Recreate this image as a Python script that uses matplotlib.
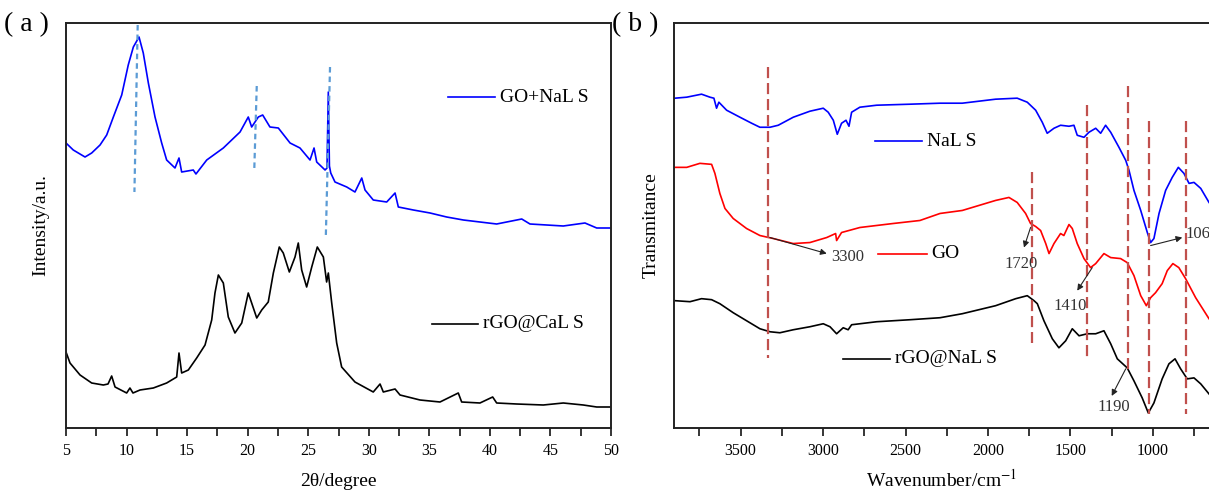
import matplotlib
matplotlib.use("Agg")
import matplotlib.pyplot as plt
from matplotlib.ticker import MultipleLocator

plt.rcParams['font.family'] = ['Liberation Serif', 'DejaVu Serif', 'Noto Sans CJK SC']
plt.rcParams['mathtext.fontset'] = 'stix'

# ---- (a) XRD ----
two_theta_go = [5.00, 5.60, 6.57, 7.12, 7.81, 8.36, 8.91, 9.60, 10.14, 10.56, 11.03, 11.38,
                11.80, 12.35, 12.90, 13.31, 14.00, 14.33, 14.55, 15.51, 15.73, 16.62, 17.99,
                19.37, 20.05, 20.33, 20.88, 21.24, 21.84, 22.53, 23.50, 24.32, 25.15, 25.48,
                25.70, 26.39, 26.55, 26.66, 26.75, 26.86, 27.21, 28.18, 28.86, 29.42, 29.69,
                30.37, 31.48, 32.17, 32.44, 33.68, 35.06, 36.43, 37.81, 39.18, 40.56, 42.63,
                43.31, 44.69, 46.06, 47.85, 48.82, 49.92]
int_go = [285, 278, 271, 275, 283, 293, 311, 333, 363, 381, 391, 375,
          345, 311, 285, 268, 260, 270, 256, 258, 254, 268, 280,
          296, 311, 301, 311, 313, 301, 300, 285, 280, 268, 280,
          266, 258, 260, 336, 262, 255, 246, 241, 236, 250, 238,
          228, 226, 235, 221, 218, 215, 211, 208, 206, 204, 209,
          204, 203, 202, 205, 200, 200]

two_theta_rgo = [5.00, 5.33, 6.16, 7.12, 8.08, 8.47, 8.77, 9.05, 10.01, 10.28, 10.53, 11.11,
                 12.21, 13.31, 14.14, 14.33, 14.55, 15.10, 15.79, 16.48, 17.03, 17.30, 17.58,
                 17.99, 18.40, 18.95, 19.51, 20.05, 20.33, 20.75, 21.16, 21.70, 22.12, 22.61,
                 22.94, 23.44, 23.91, 24.18, 24.46, 24.87, 25.29, 25.75, 26.25, 26.52, 26.66,
                 26.94, 27.35, 27.76, 28.86, 30.37, 30.93, 31.20, 32.17, 32.58, 34.23, 35.88,
                 37.39, 37.67, 39.18, 40.23, 40.56, 42.21, 44.41, 46.06, 47.71, 48.82, 49.92]
int_rgo = [76, 65, 53, 45, 43, 44, 52, 41, 35, 40, 35, 38,
           40, 45, 51, 75, 55, 58, 70, 83, 108, 135, 153,
           145, 111, 95, 105, 135, 125, 110, 118, 126, 155, 181,
           175, 156, 171, 185, 158, 141, 161, 181, 171, 146, 155,
           125, 85, 61, 46, 36, 44, 36, 39, 33, 28, 26,
           35, 26, 25, 31, 25, 24, 23, 25, 23, 21, 21]

# guide lines: (x top, x bottom, y top, y bottom)
xrd_guides = [(10.92, 10.65, 403, 236), (20.75, 20.55, 342, 260), (26.80, 26.45, 361, 190)]

# ---- (b) FTIR ----
wn_nals = [3898, 3827, 3737, 3686, 3662, 3646, 3632, 3585, 3504, 3433, 3383, 3322, 3272,
           3181, 3080, 2999, 2969, 2938, 2914, 2888, 2861, 2843, 2827, 2777, 2675, 2473,
           2291, 2156, 1954, 1823, 1762, 1711, 1671, 1641, 1600, 1560, 1509, 1479, 1459,
           1418, 1388, 1347, 1317, 1287, 1256, 1206, 1165, 1145, 1115, 1074, 1034, 1014,
           994, 963, 923, 883, 846, 812, 781, 751, 710, 660]
t_nals = [329, 330, 333, 330, 329, 319, 325, 317, 310, 304, 300, 300, 302,
          310, 316, 319, 315, 307, 293, 304, 307, 301, 315, 320, 322, 323,
          324, 324, 328, 329, 325, 317, 305, 294, 299, 302, 301, 302, 292,
          290, 295, 299, 294, 302, 295, 280, 267, 257, 237, 217, 195, 185,
          189, 214, 237, 250, 260, 254, 244, 245, 239, 225]

wn_go = [3898, 3827, 3747, 3676, 3656, 3626, 3595, 3545, 3464, 3383, 3302, 3181, 3080,
         2978, 2924, 2918, 2888, 2777, 2575, 2413, 2291, 2156, 1954, 1873, 1823, 1772,
         1742, 1711, 1681, 1650, 1630, 1600, 1560, 1540, 1509, 1489, 1459, 1418, 1378,
         1347, 1297, 1256, 1196, 1156, 1115, 1074, 1040, 1014, 984, 944, 913, 879, 843,
         802, 741, 660]
t_go = [260, 260, 264, 263, 254, 234, 219, 209, 199, 192, 189, 184, 185,
        190, 194, 187, 195, 200, 204, 207, 214, 217, 227, 230, 225, 214,
        204, 201, 197, 184, 174, 184, 194, 192, 203, 199, 184, 169, 160,
        164, 174, 170, 169, 165, 152, 132, 122, 130, 135, 144, 157, 164, 160,
        149, 130, 109]

wn_rgo = [3898, 3807, 3737, 3676, 3626, 3545, 3464, 3383, 3322, 3262, 3181, 3080, 2999,
          2958, 2918, 2878, 2848, 2827, 2675, 2473, 2291, 2156, 1954, 1832, 1762, 1721,
          1701, 1661, 1610, 1570, 1529, 1489, 1448, 1398, 1347, 1297, 1256, 1216, 1156,
          1115, 1065, 1028, 994, 944, 903, 866, 832, 792, 751, 710, 660]
t_rgo = [127, 126, 129, 128, 124, 115, 107, 99, 96, 95, 98, 101, 104,
         101, 94, 100, 98, 103, 106, 108, 110, 114, 122, 129, 132, 127,
         124, 107, 89, 80, 87, 99, 92, 94, 94, 97, 84, 69, 60,
         47, 30, 15, 25, 49, 64, 69, 59, 49, 50, 44, 34]

# guide lines: (wavenumber, y top, y bottom)
ftir_guides = [(3336, 360, 70), (1732, 255, 85), (1398, 322, 69), (1150, 341, 57),
               (1024, 306, 14), (801, 306, 14)]
# peak labels: (text, curve point, arrow head, text position, ha)
ftir_marks = [("3300", (3322, 190), (2978, 174), (2948, 171), 'left'),
              ("1720", (1742, 200), (1782, 180), (1802, 164), 'center'),
              ("1410", (1368, 160), (1459, 137), (1499, 122), 'center'),
              ("1190", (1165, 59), (1250, 32), (1240, 21), 'center'),
              ("1060", (1014, 182), (822, 190), (802, 194), 'left')]

W, H = 1209, 492
fig = plt.figure(figsize=(W / 100, H / 100), dpi=100)

def box(l, r, t=23, b=428):
    return [l / W, 1 - b / H, (r - l) / W, (b - t) / H]

def style(ax):
    for s in ax.spines.values():
        s.set_linewidth(1.4)
        s.set_color('#222222')
    ax.tick_params(axis='x', which='both', direction='out', length=6, width=1.1,
                   labelsize=11.5, pad=5)
    ax.tick_params(axis='y', which='both', left=False, labelleft=False)

ax1 = fig.add_axes(box(66, 611))
style(ax1)
ax1.plot(two_theta_go, int_go, color='#0000ff', lw=1.2)
ax1.plot(two_theta_rgo, int_rgo, color='black', lw=1.2)
for xt, xb, yt, yb in xrd_guides:
    ax1.plot([xt, xb], [yt, yb], color='#5b9bd5', lw=1.6, dashes=(2.5, 1.8))
ax1.plot([36.54, 40.42], [331, 331], color='#0000ff', lw=1.2)
ax1.text(40.8, 331, "GO+NaL\u2009S", fontsize=14, va='center')
ax1.plot([35.22, 39.02], [104, 104], color='black', lw=1.2)
ax1.text(39.4, 104, "rGO@CaL\u2009S", fontsize=14, va='center')
ax1.set_xlim(5, 50)
ax1.set_ylim(0, 405)
ax1.xaxis.set_major_locator(MultipleLocator(5))
ax1.xaxis.set_minor_locator(MultipleLocator(2.5))
ax1.set_xlabel("2θ/degree", fontsize=14, labelpad=10)
ax1.set_ylabel("Intensity/a.u.", fontsize=14, labelpad=12)

ax2 = fig.add_axes(box(674, 1209))
style(ax2)
ax2.spines['right'].set_visible(False)
ax2.plot(wn_nals, t_nals, color='#0000ff', lw=1.2)
ax2.plot(wn_go, t_go, color='#ff0000', lw=1.2)
ax2.plot(wn_rgo, t_rgo, color='black', lw=1.2)
for w, yt, yb in ftir_guides:
    ax2.plot([w, w], [yt, yb], color='#c0504d', lw=1.6, dashes=(5, 2.2))
for txt, tail, head, pos, ha in ftir_marks:
    ax2.annotate("", xy=head, xytext=tail,
                 arrowprops=dict(arrowstyle='-|>', color='#222222', lw=0.8,
                                 mutation_scale=9, shrinkA=0, shrinkB=0))
    ax2.text(pos[0], pos[1], txt, fontsize=12, color='#333333', ha=ha, va='center',
             clip_on=False)
ax2.plot([2686, 2402], [286, 286], color='#0000ff', lw=1.2)
ax2.text(2370, 286, "NaL\u2009S", fontsize=14, va='center')
ax2.plot([2666, 2372], [174, 174], color='#ff0000', lw=1.2)
ax2.text(2342, 174, "GO", fontsize=14, va='center')
ax2.plot([2878, 2595], [69, 69], color='black', lw=1.2)
ax2.text(2564, 69, "rGO@NaL\u2009S", fontsize=14, va='center')
ax2.set_xlim(3904, 660)
ax2.set_ylim(0, 404)
ax2.xaxis.set_major_locator(MultipleLocator(500))
ax2.xaxis.set_minor_locator(MultipleLocator(250))
ax2.set_xlabel(r"Wavenumber/cm$^{-1}$", fontsize=14, labelpad=7)
ax2.set_ylabel("Transmitance", fontsize=14, labelpad=10)

fig.text(4 / W, 1 - 25 / H, "( a )", fontsize=20, va='center', ha='left')
fig.text(612 / W, 1 - 25 / H, "( b )", fontsize=20, va='center', ha='left')

fig.savefig("out.png", dpi=100)
